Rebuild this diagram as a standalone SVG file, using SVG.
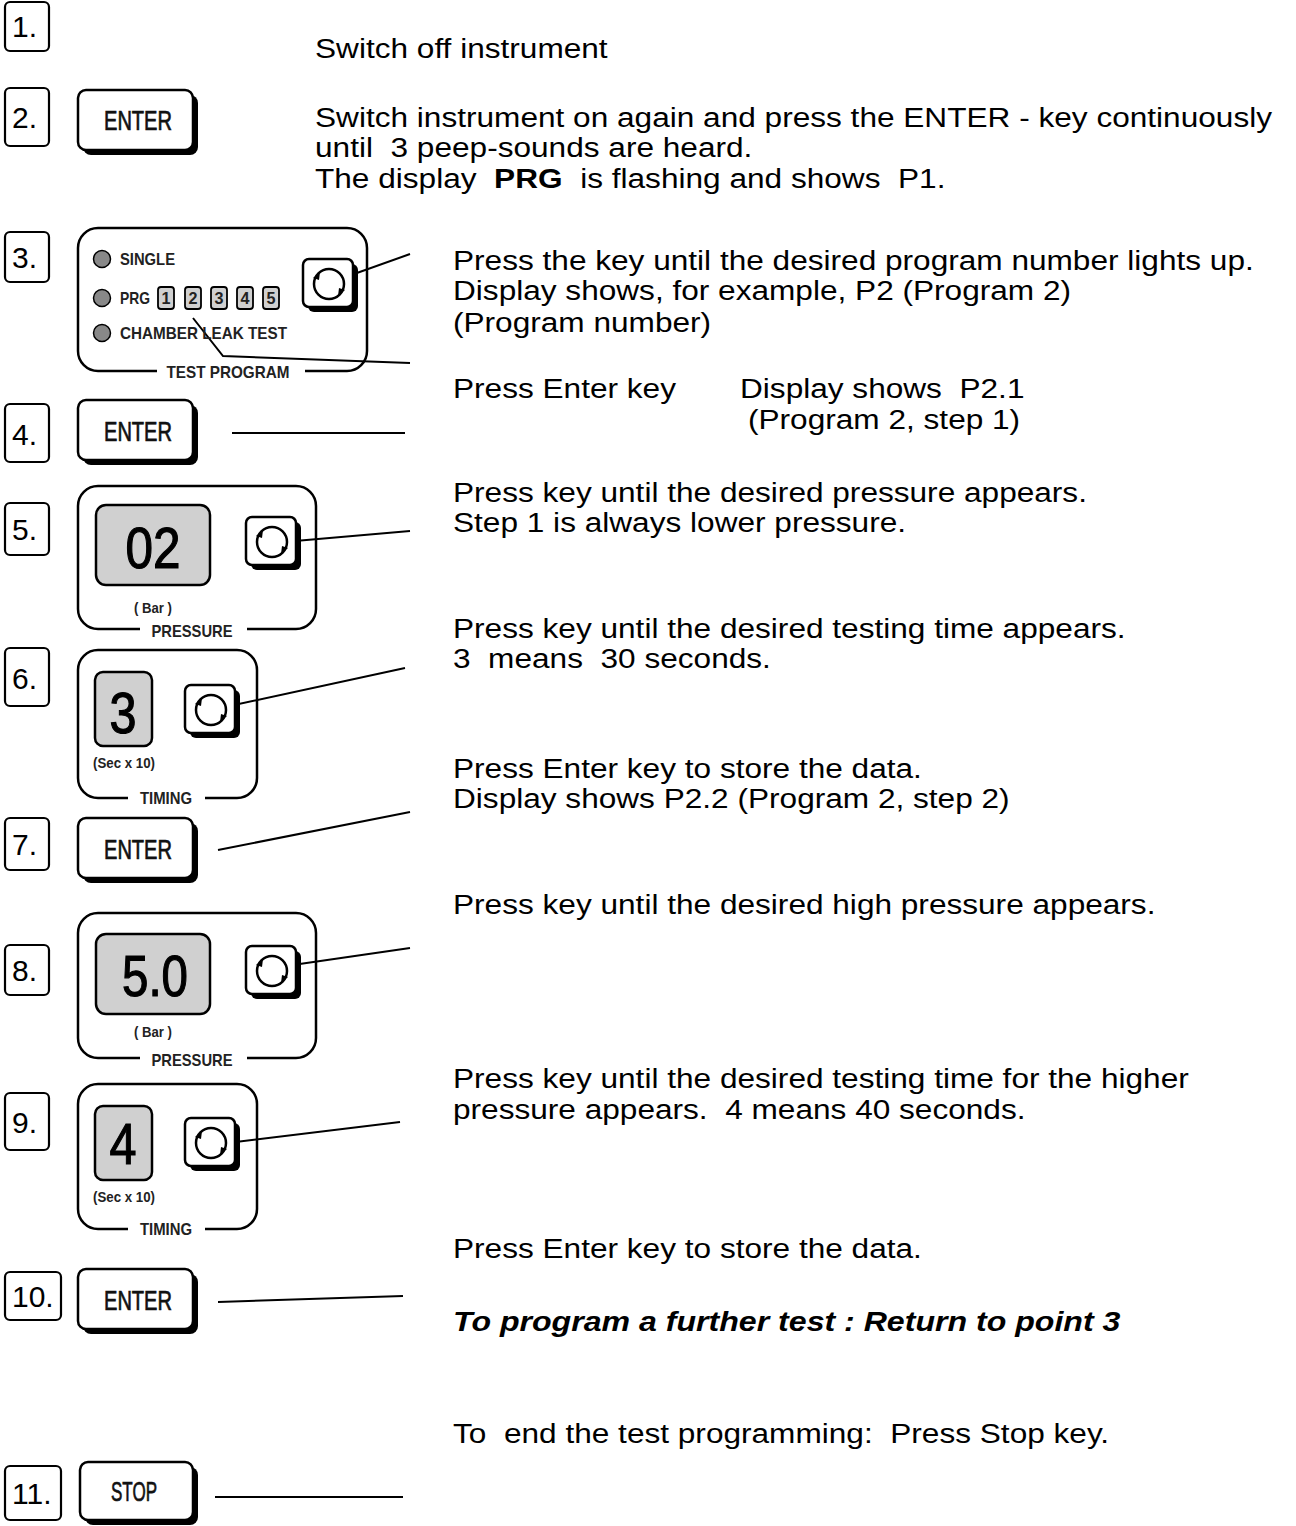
<svg xmlns="http://www.w3.org/2000/svg" xmlns:xlink="http://www.w3.org/1999/xlink" width="1296" height="1526" viewBox="0 0 1296 1526">
<style>
.num{font-family:"Liberation Sans",Arial,sans-serif;font-size:30px;fill:#000}
.txt{font-family:"Liberation Sans",Arial,sans-serif;font-size:27.8px;fill:#000}
.bi{font-family:"Liberation Sans",Arial,sans-serif;font-size:27.8px;font-weight:bold;font-style:italic;fill:#000}
.cond{font-family:"Liberation Sans",Arial,sans-serif;fill:#111}
.lbl{font-family:"Liberation Sans",Arial,sans-serif;font-weight:bold;fill:#222}
.key{font-family:"Liberation Sans",Arial,sans-serif;fill:#111;stroke:#111;stroke-width:0.7}
.big{font-family:"Liberation Sans",Arial,sans-serif;fill:#000;stroke:#000;stroke-width:1.2}
.box{fill:#fff;stroke:#000;stroke-width:2.2}
.panel{fill:none;stroke:#000;stroke-width:2.5}
.disp{fill:#d0d0d0;stroke:#000;stroke-width:2.5}
.conn{stroke:#000;stroke-width:2;fill:none}
</style>
<defs>
<g id="rotkey">
<rect x="5" y="5" width="50" height="48" rx="6" fill="#000"/>
<rect x="0" y="0" width="50" height="48" rx="6" fill="#fff" stroke="#000" stroke-width="2.5"/>
<circle cx="26" cy="25" r="15" fill="none" stroke="#000" stroke-width="2.5"/>
<path d="M10,19 L17,13 L16,21 Z" fill="#000"/>
<path d="M42,31 L35,37 L36,29 Z" fill="#000"/>
</g>
<g id="enterkey">
<rect x="5" y="5" width="115" height="60" rx="8" fill="#000"/>
<rect x="0" y="0" width="115" height="60" rx="8" fill="#fff" stroke="#000" stroke-width="2.5"/>
</g>
</defs>
<rect width="1296" height="1526" fill="#fff"/>

<g id="connectors">
<line class="conn" x1="326" y1="284" x2="410" y2="254"/>
<polyline class="conn" points="193,318 223,356 410,363"/>
<line class="conn" x1="232" y1="433" x2="405" y2="433"/>
<line class="conn" x1="272" y1="543" x2="410" y2="531"/>
<line class="conn" x1="211" y1="710" x2="405" y2="668"/>
<line class="conn" x1="218" y1="850" x2="410" y2="812"/>
<line class="conn" x1="272" y1="968" x2="410" y2="948"/>
<line class="conn" x1="211" y1="1145" x2="400" y2="1122"/>
<line class="conn" x1="218" y1="1302" x2="403" y2="1296"/>
<line class="conn" x1="215" y1="1497" x2="403" y2="1497"/>
</g>

<g id="step1">
<rect class="box" x="5" y="2" width="44" height="49" rx="5"/>
<text class="num" x="12" y="37">1.</text>
<text class="txt" transform="translate(315 58) scale(1.137 1)">Switch off instrument</text>
</g>

<g id="step2">
<rect class="box" x="5" y="88" width="44" height="58" rx="5"/>
<text class="num" x="12" y="128">2.</text>
<use xlink:href="#enterkey" x="78" y="90"/>
<text class="key" x="138" y="130" font-size="27" text-anchor="middle" textLength="68" lengthAdjust="spacingAndGlyphs">ENTER</text>
<text class="txt" transform="translate(315 127) scale(1.137 1)">Switch instrument on again and press the ENTER - key continuously</text>
<text class="txt" transform="translate(315 157) scale(1.137 1)" xml:space="preserve">until  3 peep-sounds are heard.</text>
<text class="txt" transform="translate(315 188) scale(1.137 1)" xml:space="preserve">The display  <tspan font-weight="bold">PRG</tspan>  is flashing and shows  P1.</text>
</g>

<g id="step3">
<rect class="box" x="5" y="232" width="44" height="50" rx="5"/>
<text class="num" x="12" y="268">3.</text>
<rect class="panel" x="78" y="228" width="289" height="143" rx="20"/>
<rect x="157" y="364" width="148" height="14" fill="#fff"/>
<text class="lbl" x="228" y="378" font-size="17" text-anchor="middle" textLength="123" lengthAdjust="spacingAndGlyphs">TEST PROGRAM</text>
<circle cx="102" cy="259" r="8.5" fill="#888" stroke="#000" stroke-width="1.5"/>
<circle cx="102" cy="298" r="8.5" fill="#888" stroke="#000" stroke-width="1.5"/>
<circle cx="102" cy="333" r="8.5" fill="#888" stroke="#000" stroke-width="1.5"/>
<text class="lbl" x="120" y="265" font-size="17" textLength="55" lengthAdjust="spacingAndGlyphs">SINGLE</text>
<text class="lbl" x="120" y="304" font-size="17" textLength="30" lengthAdjust="spacingAndGlyphs">PRG</text>
<text class="lbl" x="120" y="339" font-size="17" textLength="167" lengthAdjust="spacingAndGlyphs">CHAMBER LEAK TEST</text>
<g class="lbl" font-size="17" text-anchor="middle">
<rect x="158" y="287" width="16" height="22" rx="3" fill="#d0d0d0" stroke="#000" stroke-width="1.8"/>
<text x="166" y="304" textLength="9" lengthAdjust="spacingAndGlyphs">1</text>
<rect x="185" y="287" width="16" height="22" rx="3" fill="#d0d0d0" stroke="#000" stroke-width="1.8"/>
<text x="193" y="304" textLength="9" lengthAdjust="spacingAndGlyphs">2</text>
<rect x="211" y="287" width="16" height="22" rx="3" fill="#d0d0d0" stroke="#000" stroke-width="1.8"/>
<text x="219" y="304" textLength="9" lengthAdjust="spacingAndGlyphs">3</text>
<rect x="237" y="287" width="16" height="22" rx="3" fill="#d0d0d0" stroke="#000" stroke-width="1.8"/>
<text x="245" y="304" textLength="9" lengthAdjust="spacingAndGlyphs">4</text>
<rect x="263" y="287" width="16" height="22" rx="3" fill="#d0d0d0" stroke="#000" stroke-width="1.8"/>
<text x="271" y="304" textLength="9" lengthAdjust="spacingAndGlyphs">5</text>
</g>
<use xlink:href="#rotkey" x="303" y="259"/>
<text class="txt" transform="translate(453 270) scale(1.137 1)">Press the key until the desired program number lights up.</text>
<text class="txt" transform="translate(453 300) scale(1.137 1)">Display shows, for example, P2 (Program 2)</text>
<text class="txt" transform="translate(453 332) scale(1.137 1)">(Program number)</text>
<text class="txt" transform="translate(453 398) scale(1.137 1)">Press Enter key</text>
<text class="txt" transform="translate(740 398) scale(1.137 1)" xml:space="preserve">Display shows  P2.1</text>
<text class="txt" transform="translate(748 429) scale(1.137 1)">(Program 2, step 1)</text>
</g>

<g id="step4">
<rect class="box" x="5" y="404" width="44" height="58" rx="5"/>
<text class="num" x="12" y="445">4.</text>
<use xlink:href="#enterkey" x="78" y="400"/>
<text class="key" x="138" y="441" font-size="27" text-anchor="middle" textLength="68" lengthAdjust="spacingAndGlyphs">ENTER</text>
</g>

<g id="step5">
<rect class="box" x="5" y="503" width="44" height="52" rx="5"/>
<text class="num" x="12" y="540">5.</text>
<rect class="panel" x="78" y="486" width="238" height="143" rx="20"/>
<rect x="140" y="620" width="107" height="14" fill="#fff"/>
<text class="lbl" x="192" y="637" font-size="17" text-anchor="middle" textLength="81" lengthAdjust="spacingAndGlyphs">PRESSURE</text>
<rect class="disp" x="96" y="505" width="114" height="80" rx="10"/>
<text class="big" x="153" y="568" font-size="58" text-anchor="middle" textLength="55" lengthAdjust="spacingAndGlyphs">02</text>
<text class="lbl" x="153" y="613" font-size="14" text-anchor="middle" textLength="38" lengthAdjust="spacingAndGlyphs">( Bar )</text>
<use xlink:href="#rotkey" x="246" y="517"/>
<text class="txt" transform="translate(453 502) scale(1.137 1)">Press key until the desired pressure appears.</text>
<text class="txt" transform="translate(453 532) scale(1.137 1)">Step 1 is always lower pressure.</text>
</g>

<g id="step6">
<rect class="box" x="5" y="648" width="44" height="58" rx="5"/>
<text class="num" x="12" y="689">6.</text>
<rect class="panel" x="78" y="650" width="179" height="148" rx="20"/>
<rect x="128" y="790" width="77" height="14" fill="#fff"/>
<text class="lbl" x="166" y="804" font-size="17" text-anchor="middle" textLength="52" lengthAdjust="spacingAndGlyphs">TIMING</text>
<rect class="disp" x="95" y="672" width="57" height="74" rx="8"/>
<text class="big" x="123" y="733" font-size="58" text-anchor="middle" textLength="27" lengthAdjust="spacingAndGlyphs">3</text>
<text class="lbl" x="124" y="768" font-size="14" text-anchor="middle" textLength="62" lengthAdjust="spacingAndGlyphs">(Sec x 10)</text>
<use xlink:href="#rotkey" x="185" y="685"/>
<text class="txt" transform="translate(453 638) scale(1.137 1)">Press key until the desired testing time appears.</text>
<text class="txt" transform="translate(453 668) scale(1.137 1)" xml:space="preserve">3  means  30 seconds.</text>
</g>

<g id="step7">
<rect class="box" x="5" y="818" width="44" height="52" rx="5"/>
<text class="num" x="12" y="855">7.</text>
<use xlink:href="#enterkey" x="78" y="818"/>
<text class="key" x="138" y="859" font-size="27" text-anchor="middle" textLength="68" lengthAdjust="spacingAndGlyphs">ENTER</text>
<text class="txt" transform="translate(453 778) scale(1.137 1)">Press Enter key to store the data.</text>
<text class="txt" transform="translate(453 808) scale(1.137 1)">Display shows P2.2 (Program 2, step 2)</text>
</g>

<g id="step8">
<rect class="box" x="5" y="945" width="44" height="50" rx="5"/>
<text class="num" x="12" y="981">8.</text>
<rect class="panel" x="78" y="913" width="238" height="145" rx="20"/>
<rect x="140" y="1050" width="107" height="14" fill="#fff"/>
<text class="lbl" x="192" y="1066" font-size="17" text-anchor="middle" textLength="81" lengthAdjust="spacingAndGlyphs">PRESSURE</text>
<rect class="disp" x="96" y="934" width="114" height="80" rx="10"/>
<text class="big" x="155" y="996" font-size="58" text-anchor="middle" textLength="66" lengthAdjust="spacingAndGlyphs">5.0</text>
<text class="lbl" x="153" y="1037" font-size="14" text-anchor="middle" textLength="38" lengthAdjust="spacingAndGlyphs">( Bar )</text>
<use xlink:href="#rotkey" x="246" y="946"/>
<text class="txt" transform="translate(453 914) scale(1.137 1)">Press key until the desired high pressure appears.</text>
</g>

<g id="step9">
<rect class="box" x="5" y="1093" width="44" height="57" rx="5"/>
<text class="num" x="12" y="1133">9.</text>
<rect class="panel" x="78" y="1084" width="179" height="145" rx="20"/>
<rect x="128" y="1221" width="77" height="14" fill="#fff"/>
<text class="lbl" x="166" y="1235" font-size="17" text-anchor="middle" textLength="52" lengthAdjust="spacingAndGlyphs">TIMING</text>
<rect class="disp" x="95" y="1106" width="57" height="74" rx="8"/>
<text class="big" x="123" y="1164" font-size="58" text-anchor="middle" textLength="27" lengthAdjust="spacingAndGlyphs">4</text>
<text class="lbl" x="124" y="1202" font-size="14" text-anchor="middle" textLength="62" lengthAdjust="spacingAndGlyphs">(Sec x 10)</text>
<use xlink:href="#rotkey" x="185" y="1118"/>
<text class="txt" transform="translate(453 1088) scale(1.137 1)">Press key until the desired testing time for the higher</text>
<text class="txt" transform="translate(453 1119) scale(1.137 1)" xml:space="preserve">pressure appears.  4 means 40 seconds.</text>
</g>

<g id="step10">
<rect class="box" x="5" y="1272" width="56" height="48" rx="5"/>
<text class="num" x="12" y="1307">10.</text>
<use xlink:href="#enterkey" x="78" y="1269"/>
<text class="key" x="138" y="1310" font-size="27" text-anchor="middle" textLength="68" lengthAdjust="spacingAndGlyphs">ENTER</text>
<text class="txt" transform="translate(453 1258) scale(1.137 1)">Press Enter key to store the data.</text>
<text class="bi" transform="translate(453 1331) scale(1.155 1)">To program a further test : Return to point 3</text>
</g>

<g id="step11">
<rect class="box" x="5" y="1466" width="56" height="54" rx="5"/>
<text class="num" x="12" y="1504">11.</text>
<rect x="85" y="1467" width="113" height="58" rx="8" fill="#000"/>
<rect x="80" y="1462" width="113" height="58" rx="8" fill="#fff" stroke="#000" stroke-width="2.5"/>
<text class="key" x="134" y="1501" font-size="27" text-anchor="middle" textLength="46" lengthAdjust="spacingAndGlyphs">STOP</text>
<text class="txt" transform="translate(453 1443) scale(1.137 1)" xml:space="preserve">To  end the test programming:  Press Stop key.</text>
</g>
</svg>
